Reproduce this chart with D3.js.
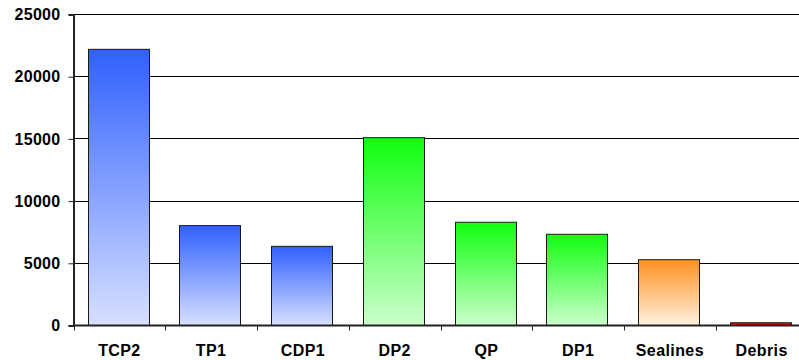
<!DOCTYPE html>
<html>
<head>
<meta charset="utf-8">
<script src="https://cdn.jsdelivr.net/npm/d3@7"></script>
<style>
  html, body { margin: 0; padding: 0; background: #fff; }
  svg { display: block; font-family: "Liberation Sans", Arial, sans-serif; }
</style>
</head>
<body>
<svg id="chart" width="799" height="360"></svg>
<script>
// Counts per category
const categories = ["TCP2", "TP1", "CDP1", "DP2", "QP", "DP1", "Sealines", "Debris"];
const values = [22200, 8030, 6360, 15100, 8300, 7330, 5290, 220];
// Colour family of each bar (gradient from saturated top to pale bottom)
const families = ["blue", "blue", "blue", "green", "green", "green", "orange", "red"];
const yTicks = [0, 5000, 10000, 15000, 20000, 25000];

const palette = {
  blue:   { top: "#3060ff", bottom: "#d8e0ff" },
  green:  { top: "#10ff10", bottom: "#ccffcc" },
  orange: { top: "#ff9020", bottom: "#fff2e0" },
  red:    { top: "#ff0000", bottom: "#ff0000" }
};

const svg = d3.select("#chart");
const plotLeft = 73.5, plotRight = 807.5, plotTop = 14.5, plotBottom = 325.5;

const x = d3.scaleBand()
  .domain(categories)
  .range([plotLeft, plotRight])
  .paddingInner(0.33)
  .paddingOuter(0.165);

const y = d3.scaleLinear().domain([0, 25000]).range([plotBottom, plotTop]);

const defs = svg.append("defs");
Object.entries(palette).forEach(([name, c]) => {
  const g = defs.append("linearGradient")
    .attr("id", "grad-" + name)
    .attr("x1", 0).attr("y1", 0).attr("x2", 0).attr("y2", 1);
  g.append("stop").attr("offset", "0%").attr("stop-color", c.top);
  g.append("stop").attr("offset", "100%").attr("stop-color", c.bottom);
});

// Horizontal gridlines
svg.append("g")
  .selectAll("line")
  .data(yTicks.filter(t => t > 0))
  .join("line")
  .attr("x1", plotLeft).attr("x2", 799)
  .attr("y1", d => Math.floor(y(d)) + 0.5)
  .attr("y2", d => Math.floor(y(d)) + 0.5)
  .attr("stroke", "#000")
  .attr("stroke-width", 1);

// Bars
svg.append("g")
  .selectAll("rect")
  .data(categories)
  .join("rect")
  .attr("x", d => Math.round(x(d)) - 0.5)
  .attr("width", Math.round(x.bandwidth()))
  .attr("y", (d, i) => y(values[i]))
  .attr("height", (d, i) => y(0) - y(values[i]))
  .attr("fill", (d, i) => `url(#grad-${families[i]})`)
  .attr("stroke", "#1a1a1a")
  .attr("stroke-width", 1);

// Y axis
const yAxis = svg.append("g")
  .attr("transform", `translate(${plotLeft},0)`)
  .call(d3.axisLeft(y).tickValues(yTicks).tickSize(5).tickPadding(8).tickFormat(d3.format("d")));
yAxis.select(".domain").attr("stroke", "#222").attr("stroke-width", 2);
yAxis.selectAll(".tick line").attr("stroke", "#222");
yAxis.selectAll("text")
  .attr("font-size", 16).attr("font-weight", "bold").attr("fill", "#000")
  .attr("letter-spacing", 0.3)
  .attr("font-family", "'Liberation Sans', Arial, sans-serif");

// X axis line with tick marks at category boundaries
const step = x.step();
const boundaries = d3.range(categories.length + 1).map(i => plotLeft + i * step);
svg.append("line")
  .attr("x1", plotLeft).attr("x2", 799)
  .attr("y1", plotBottom).attr("y2", plotBottom)
  .attr("stroke", "#222").attr("stroke-width", 2);
svg.append("g")
  .selectAll("line")
  .data(boundaries)
  .join("line")
  .attr("x1", d => Math.round(d) + 0.5).attr("x2", d => Math.round(d) + 0.5)
  .attr("y1", plotBottom).attr("y2", plotBottom + 5)
  .attr("stroke", "#222");

// Category labels
svg.append("g")
  .selectAll("text")
  .data(categories)
  .join("text")
  .attr("x", d => x(d) + x.bandwidth() / 2)
  .attr("y", 356)
  .attr("text-anchor", "middle")
  .attr("font-size", 16)
  .attr("font-weight", "bold")
  .attr("letter-spacing", 0.4)
  .attr("fill", "#000")
  .text(d => d);
</script>
</body>
</html>
